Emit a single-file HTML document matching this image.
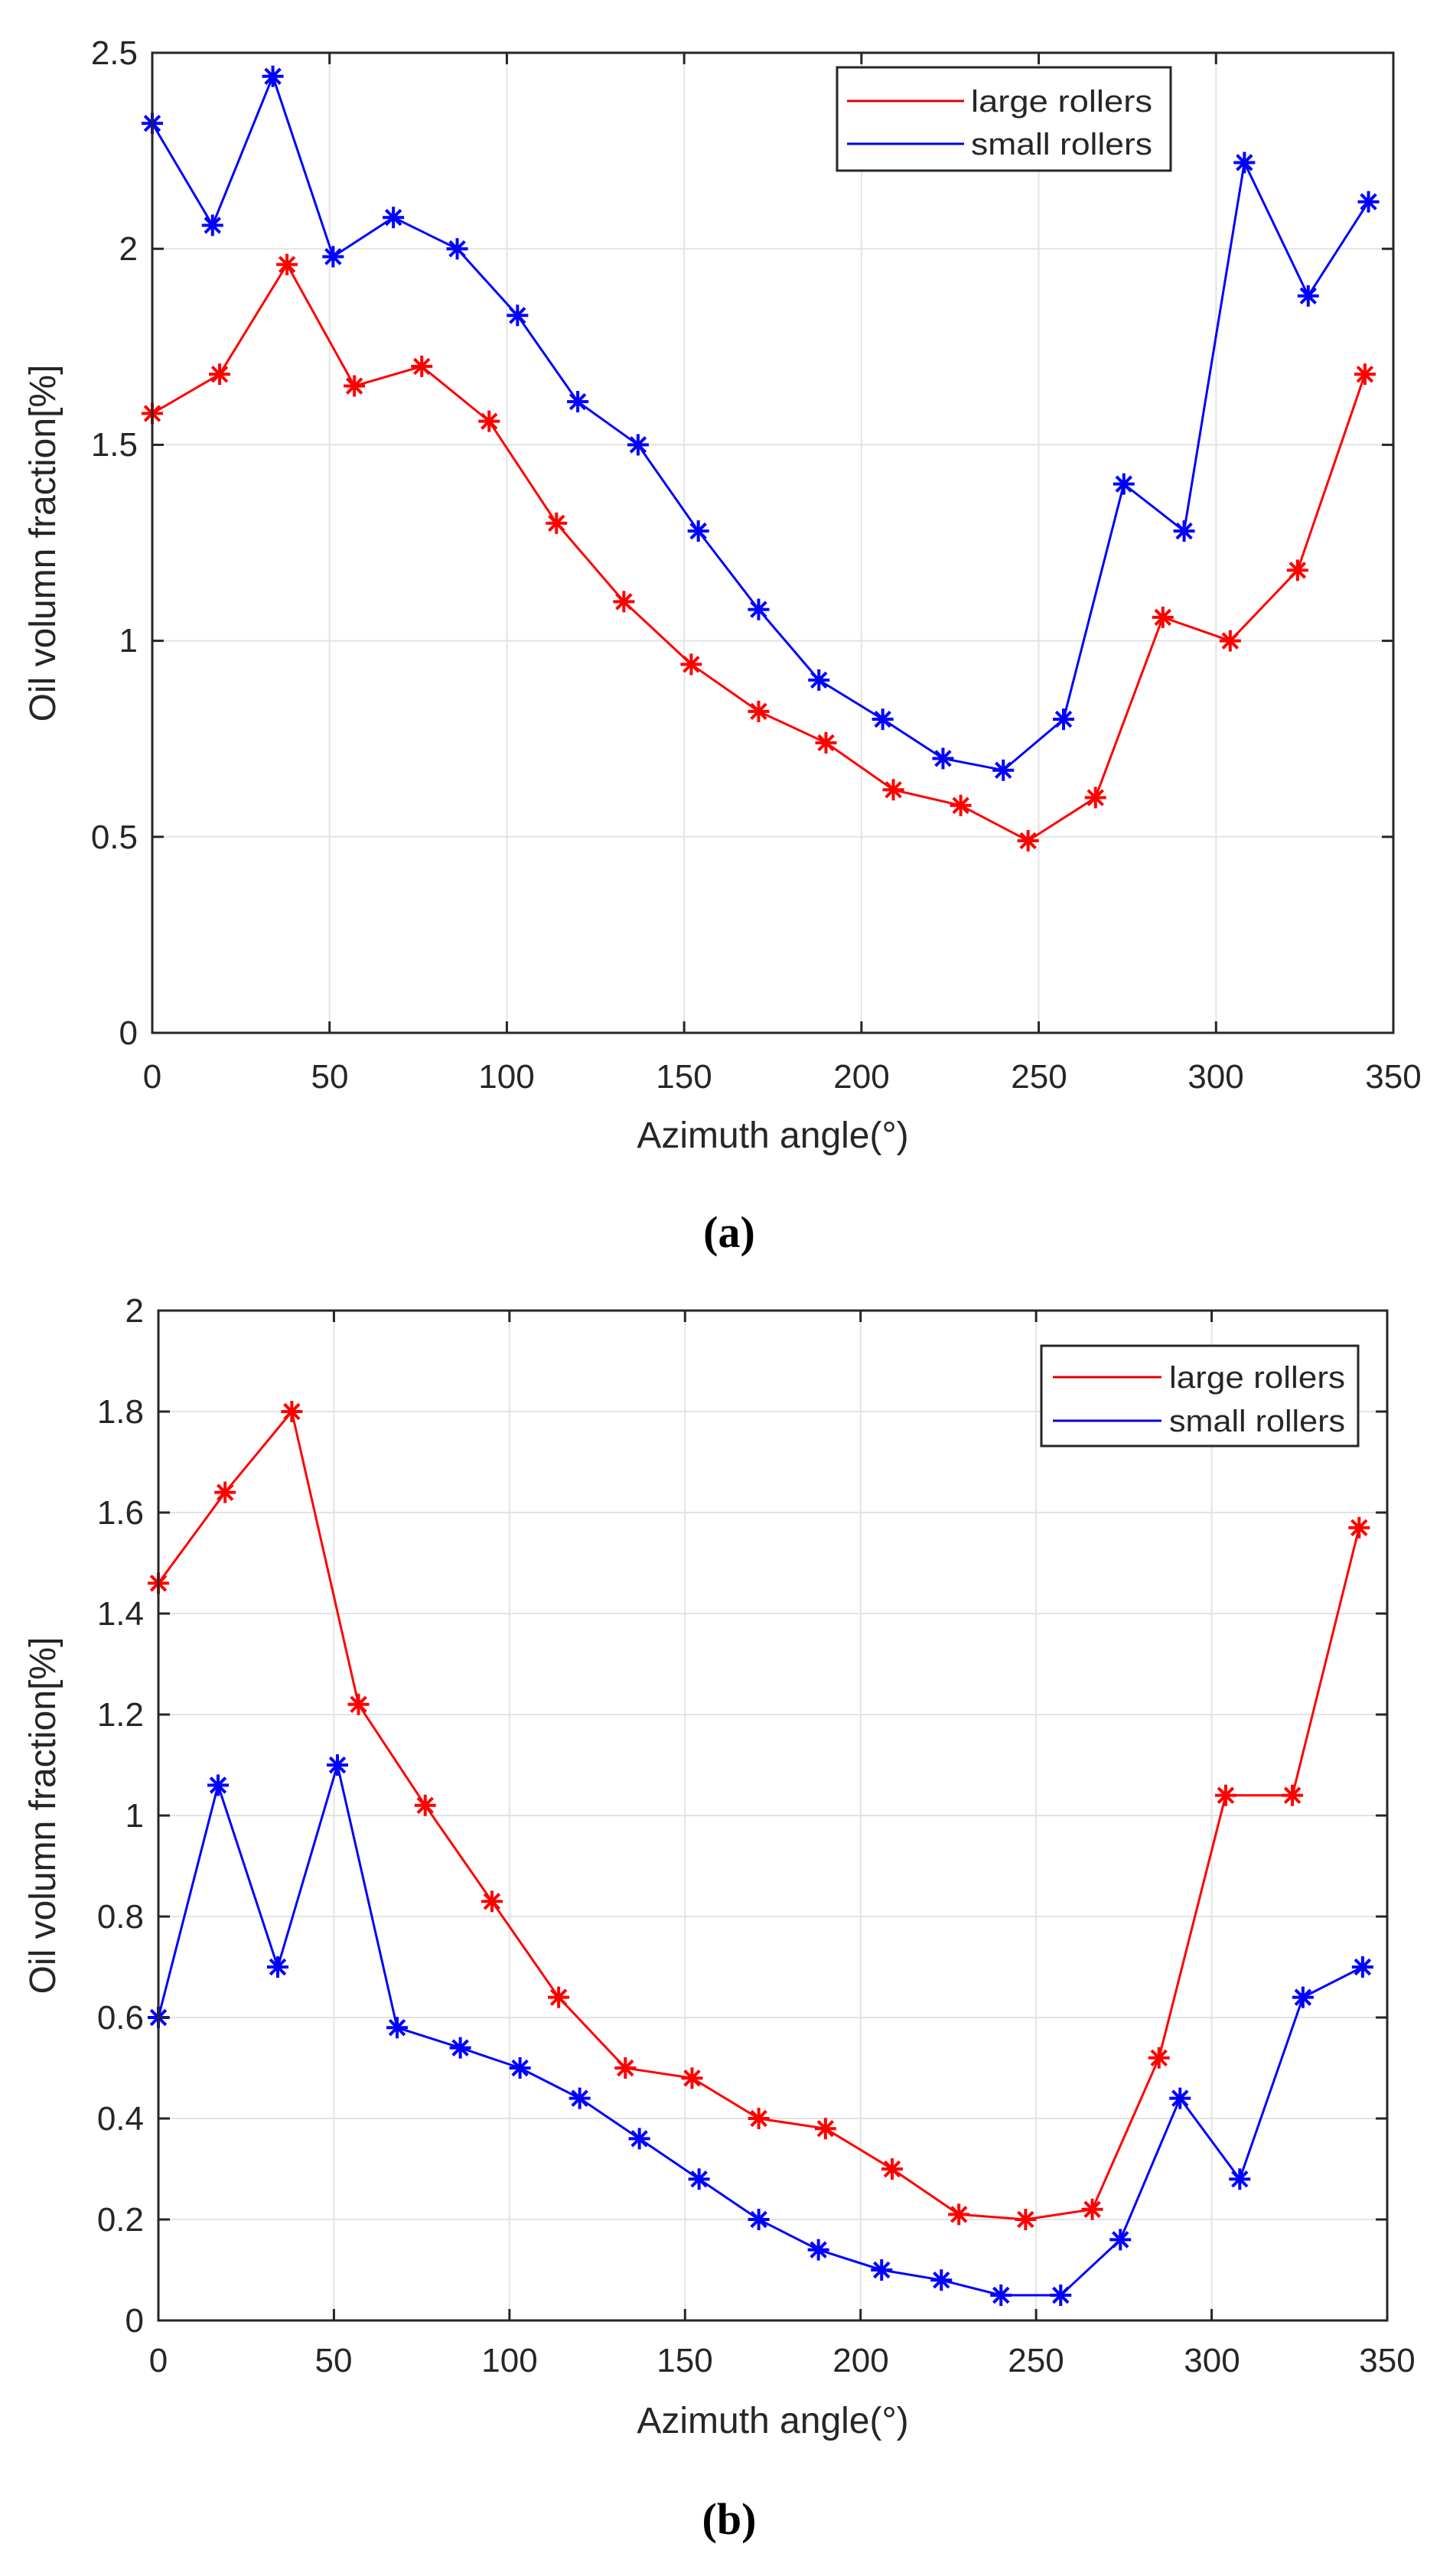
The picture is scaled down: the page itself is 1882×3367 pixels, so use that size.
<!DOCTYPE html>
<html><head><meta charset="utf-8"><style>
html,body{margin:0;padding:0;background:#fff;}
svg{display:block;}
text{font-family:"Liberation Sans",Arial,sans-serif;fill:#262626;}
</style></head><body>
<svg id="s" width="1882" height="3367" viewBox="0 0 1882 3367" xmlns="http://www.w3.org/2000/svg">
<g id="g1"></g>
<!-- Plot (a) text -->
<g font-size="44" text-anchor="end">
<text x="180" y="84">2.5</text><text x="180" y="340">2</text><text x="180" y="596">1.5</text>
<text x="180" y="852">1</text><text x="180" y="1109">0.5</text><text x="180" y="1365">0</text>
</g>
<g font-size="44" text-anchor="middle">
<text x="199" y="1422">0</text><text x="431" y="1422">50</text><text x="662" y="1422">100</text>
<text x="894" y="1422">150</text><text x="1126" y="1422">200</text><text x="1358" y="1422">250</text>
<text x="1589" y="1422">300</text><text x="1821" y="1422">350</text>
</g>
<text x="1010" y="1500" font-size="48" text-anchor="middle">Azimuth angle(°)</text>
<text transform="translate(72,710) rotate(-90)" font-size="48" text-anchor="middle">Oil volumn fraction[%]</text>
<text x="953" y="1630" font-size="58" font-weight="bold" text-anchor="middle" style="font-family:'Liberation Serif',serif;fill:#000">(<tspan font-style="normal">a</tspan>)</text>
<rect x="1094" y="88" width="436" height="135" fill="#fff" stroke="#262626" stroke-width="3"/>
<line x1="1107" y1="132" x2="1260" y2="132" stroke="#e00000" stroke-width="3"/>
<line x1="1107" y1="188" x2="1260" y2="188" stroke="#0000e0" stroke-width="3"/>
<text x="1269" y="146" font-size="40" textLength="237" lengthAdjust="spacingAndGlyphs">large rollers</text>
<text x="1269" y="202" font-size="40" textLength="237" lengthAdjust="spacingAndGlyphs">small rollers</text>

<!-- Plot (b) text -->
<g font-size="44" text-anchor="end">
<text x="188" y="1728">2</text><text x="188" y="1860">1.8</text><text x="188" y="1992">1.6</text>
<text x="188" y="2124">1.4</text><text x="188" y="2256">1.2</text><text x="188" y="2388">1</text>
<text x="188" y="2520">0.8</text><text x="188" y="2652">0.6</text><text x="188" y="2784">0.4</text>
<text x="188" y="2916">0.2</text><text x="188" y="3048">0</text>
</g>
<g font-size="44" text-anchor="middle">
<text x="207" y="3100">0</text><text x="436" y="3100">50</text><text x="666" y="3100">100</text>
<text x="895" y="3100">150</text><text x="1125" y="3100">200</text><text x="1354" y="3100">250</text>
<text x="1584" y="3100">300</text><text x="1813" y="3100">350</text>
</g>
<text x="1010" y="3180" font-size="48" text-anchor="middle">Azimuth angle(°)</text>
<text transform="translate(72,2373) rotate(-90)" font-size="48" text-anchor="middle">Oil volumn fraction[%]</text>
<text x="953" y="3312" font-size="58" font-weight="bold" text-anchor="middle" style="font-family:'Liberation Serif',serif;fill:#000">(b)</text>
<rect x="1361" y="1759" width="414" height="131" fill="#fff" stroke="#262626" stroke-width="3"/>
<line x1="1376" y1="1800" x2="1518" y2="1800" stroke="#e00000" stroke-width="3"/>
<line x1="1376" y1="1857" x2="1518" y2="1857" stroke="#0000e0" stroke-width="3"/>
<text x="1528" y="1814" font-size="40" textLength="230" lengthAdjust="spacingAndGlyphs">large rollers</text>
<text x="1528" y="1871" font-size="40" textLength="230" lengthAdjust="spacingAndGlyphs">small rollers</text>
</svg>
<script>
(function(){
var NS="http://www.w3.org/2000/svg",g=document.getElementById("g1");
function el(n,a){var e=document.createElementNS(NS,n);for(var k in a)e.setAttribute(k,a[k]);g.appendChild(e);return e;}
function plot(L,T,R,B,xmax,ymax,ystep,red,blue){
  var sx=function(v){return L+(R-L)*v/xmax}, sy=function(v){return B-(B-T)*v/ymax};
  for(var x=50;x<xmax;x+=50){el("line",{x1:sx(x),y1:T,x2:sx(x),y2:B,stroke:"#e3e3e3","stroke-width":2});}
  for(var y=ystep;y<ymax-1e-9;y+=ystep){el("line",{x1:L,y1:sy(y),x2:R,y2:sy(y),stroke:"#e3e3e3","stroke-width":2});}
  function series(d,c){
    var pts=[];for(var i=0;i<d.length;i+=2)pts.push(sx(d[i])+","+sy(d[i+1]));
    el("polyline",{points:pts.join(" "),fill:"none",stroke:c,"stroke-width":3});
    for(var i=0;i<d.length;i+=2){var cx=sx(d[i]),cy=sy(d[i+1]),r=14,p="";
      p+="M"+(cx-r)+" "+cy+"h"+(2*r)+"M"+cx+" "+(cy-r)+"v"+(2*r);
      var q=r*0.7;p+="M"+(cx-q)+" "+(cy-q)+"L"+(cx+q)+" "+(cy+q)+"M"+(cx-q)+" "+(cy+q)+"L"+(cx+q)+" "+(cy-q);
      el("path",{d:p,stroke:c,"stroke-width":4,fill:"none"});}
  }
  series(red,"#ff0000");series(blue,"#0000ff");
  for(var x=0;x<=xmax;x+=50){el("line",{x1:sx(x),y1:B,x2:sx(x),y2:B-15,stroke:"#262626","stroke-width":3});el("line",{x1:sx(x),y1:T,x2:sx(x),y2:T+15,stroke:"#262626","stroke-width":3});}
  for(var y=0;y<=ymax+1e-9;y+=ystep){el("line",{x1:L,y1:sy(y),x2:L+15,y2:sy(y),stroke:"#262626","stroke-width":3});el("line",{x1:R,y1:sy(y),x2:R-15,y2:sy(y),stroke:"#262626","stroke-width":3});}
  el("rect",{x:L,y:T,width:R-L,height:B-T,fill:"none",stroke:"#262626","stroke-width":3});
}
plot(199,69,1821,1350,350,2.5,0.5,
 [0,1.58,19,1.68,38,1.96,57,1.65,76,1.70,95,1.56,114,1.30,133,1.10,152,0.94,171,0.82,190,0.74,209,0.62,228,0.58,247,0.49,266,0.60,285,1.06,304,1.00,323,1.18,342,1.68],
 [0,2.32,17,2.06,34,2.44,51,1.98,68,2.08,86,2.00,103,1.83,120,1.61,137,1.50,154,1.28,171,1.08,188,0.90,206,0.80,223,0.70,240,0.67,257,0.80,274,1.40,291,1.28,308,2.22,326,1.88,343,2.12]);
plot(207,1713,1813,3033,350,2.0,0.2,
 [0,1.46,19,1.64,38,1.80,57,1.22,76,1.02,95,0.83,114,0.64,133,0.50,152,0.48,171,0.40,190,0.38,209,0.30,228,0.21,247,0.20,266,0.22,285,0.52,304,1.04,323,1.04,342,1.57],
 [0,0.60,17,1.06,34,0.70,51,1.10,68,0.58,86,0.54,103,0.50,120,0.44,137,0.36,154,0.28,171,0.20,188,0.14,206,0.10,223,0.08,240,0.05,257,0.05,274,0.16,291,0.44,308,0.28,326,0.64,343,0.70]);
})();
</script>
</body></html>
